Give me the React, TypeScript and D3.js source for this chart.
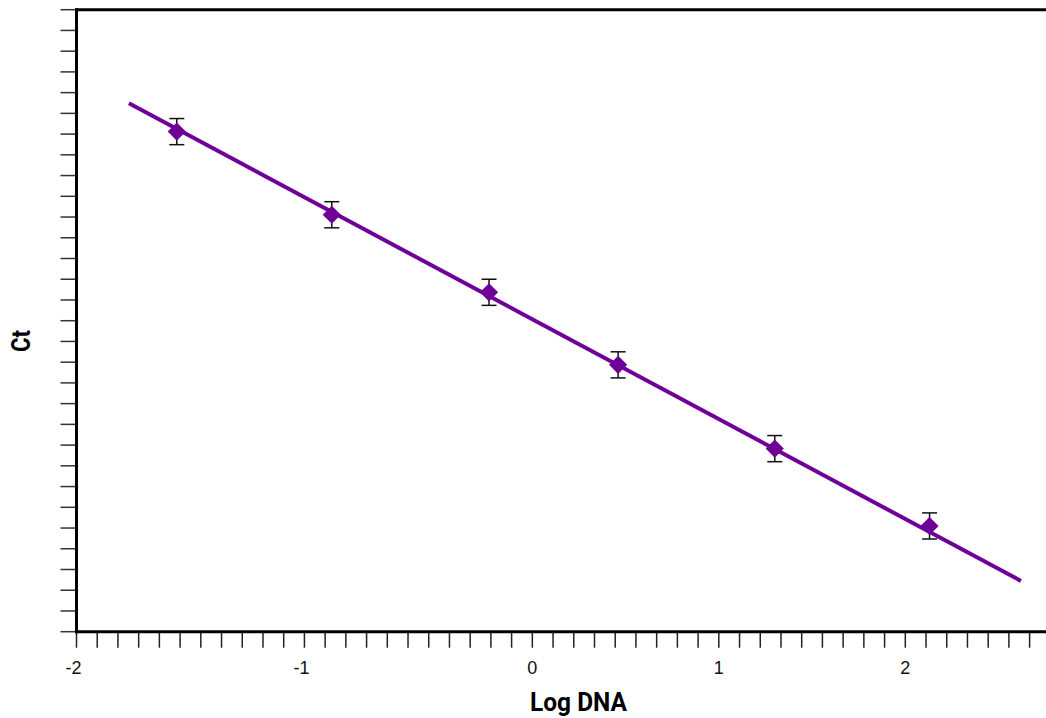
import { useEffect, useRef } from "react";
import * as d3 from "d3";

// Log DNA (x) and Ct (y) of the standards, with error bar half-widths
const logDna = [-1.56, -0.88, -0.19, 0.46, 1.3, 2.13];
const ctMean = [34.12, 30.11, 26.37, 22.87, 18.83, 15.1];
const ctErr = [0.63, 0.63, 0.63, 0.63, 0.63, 0.63];

// fitted line end points
const fitX = [-1.77, 2.62];
const fitY = [35.49, 12.45];

// x labels and the minor tick each one sits on
const xTickLabels = ["-2", "-1", "0", "1", "2"];
const xTickValues = [-2, -1, 0, 1, 2];
const xTickIndex = [0, 11, 22, 31, 40];
const xMinorCount = 46;

const yDomain = [10, 40];
const yMinorCount = 30;

const App = () => {
  const svgRef = useRef<SVGSVGElement | null>(null);

  useEffect(() => {
    if (!svgRef.current) return;
    const W = 1046;
    const H = 718;
    const margin = { top: 9.7, left: 76.5, bottom: 86.3 };
    const height = H - margin.top - margin.bottom;
    const step = 20.72;

    const svg = d3.select(svgRef.current);
    svg.selectAll("*").remove();
    svg.attr("width", W).attr("height", H);

    const g = svg.append("g").attr("transform", `translate(${margin.left},${margin.top})`);

    // minor tick index -> px
    const minor = d3.scaleLinear().domain([0, xMinorCount]).range([0, xMinorCount * step]);
    // Log DNA -> px (labels sit unevenly on the ticks)
    const x = d3.scaleLinear().domain(xTickValues).range(xTickIndex.map((i) => minor(i)));
    const y = d3.scaleLinear().domain(yDomain).range([height, 0]);

    // y ticks
    const yTicks = d3.range(yMinorCount + 1).map((i) => yDomain[0] + ((yDomain[1] - yDomain[0]) * i) / yMinorCount);
    g.selectAll(".ytick")
      .data(yTicks)
      .enter()
      .append("line")
      .attr("x1", -16)
      .attr("x2", 0)
      .attr("y1", (d) => y(d))
      .attr("y2", (d) => y(d))
      .attr("stroke", "#333")
      .attr("stroke-width", 1.5);

    // x ticks
    g.selectAll(".xtick")
      .data(d3.range(xMinorCount + 1))
      .enter()
      .append("line")
      .attr("x1", (d) => minor(d))
      .attr("x2", (d) => minor(d))
      .attr("y1", height)
      .attr("y2", height + 16)
      .attr("stroke", "#222")
      .attr("stroke-width", 1.5);

    // x labels
    g.selectAll(".xlabel")
      .data(xTickValues)
      .enter()
      .append("text")
      .attr("x", (d) => x(d) - (d < 0 ? 3 : 0))
      .attr("y", height + 42)
      .attr("text-anchor", "middle")
      .style("font-family", "'Liberation Sans', Arial, sans-serif")
      .style("font-size", "18px")
      .attr("fill", "#111")
      .text((d, i) => xTickLabels[i]);

    // axes frame
    g.append("line")
      .attr("x1", 0)
      .attr("x2", 0)
      .attr("y1", -1.5)
      .attr("y2", height + 1.5)
      .attr("stroke", "#000")
      .attr("stroke-width", 3);
    g.append("line")
      .attr("x1", -1.5)
      .attr("x2", W)
      .attr("y1", height)
      .attr("y2", height)
      .attr("stroke", "#000")
      .attr("stroke-width", 3);
    g.append("line")
      .attr("x1", -1.5)
      .attr("x2", W)
      .attr("y1", 0)
      .attr("y2", 0)
      .attr("stroke", "#000")
      .attr("stroke-width", 3);

    // fit line
    const fit = fitX.map((v, i) => ({ x: v, y: fitY[i] }));
    const line = d3
      .line<{ x: number; y: number }>()
      .x((d) => x(d.x))
      .y((d) => y(d.y));
    g.append("path")
      .datum(fit)
      .attr("fill", "none")
      .attr("stroke", "#6f0097")
      .attr("stroke-width", 4)
      .attr("d", line);

    const pts = logDna.map((v, i) => ({ x: v, y: ctMean[i], e: ctErr[i] }));

    // error bars
    const eb = g.selectAll(".eb").data(pts).enter().append("g").attr("stroke", "#111").attr("stroke-width", 1.5);
    eb.append("line")
      .attr("x1", (d) => x(d.x))
      .attr("x2", (d) => x(d.x))
      .attr("y1", (d) => y(d.y + d.e))
      .attr("y2", (d) => y(d.y - d.e));
    eb.append("line")
      .attr("x1", (d) => x(d.x) - 7.5)
      .attr("x2", (d) => x(d.x) + 7.5)
      .attr("y1", (d) => y(d.y + d.e))
      .attr("y2", (d) => y(d.y + d.e));
    eb.append("line")
      .attr("x1", (d) => x(d.x) - 7.5)
      .attr("x2", (d) => x(d.x) + 7.5)
      .attr("y1", (d) => y(d.y - d.e))
      .attr("y2", (d) => y(d.y - d.e));

    // diamonds
    const diamond = d3.symbol().type(d3.symbolSquare).size(165);
    g.selectAll(".pt")
      .data(pts)
      .enter()
      .append("path")
      .attr("d", diamond)
      .attr("transform", (d) => `translate(${x(d.x)},${y(d.y)}) rotate(45)`)
      .attr("fill", "#6f0097");

    // axis titles
    svg
      .append("text")
      .attr("x", 578.5)
      .attr("y", 711)
      .attr("text-anchor", "middle")
      .attr("textLength", 97)
      .attr("lengthAdjust", "spacingAndGlyphs")
      .style("font-family", "Roboto, Arial, sans-serif")
      .style("font-weight", "bold")
      .style("font-size", "26px")
      .attr("fill", "#000")
      .text("Log DNA");

    svg
      .append("text")
      .attr("transform", "translate(30,341) rotate(-90)")
      .attr("text-anchor", "middle")
      .attr("textLength", 22)
      .attr("lengthAdjust", "spacingAndGlyphs")
      .style("font-family", "Roboto, Arial, sans-serif")
      .style("font-weight", "bold")
      .style("font-size", "26px")
      .attr("fill", "#000")
      .text("Ct");
  }, []);

  return (
    <div style={{ position: "absolute", left: 0, top: 0, width: 1046, height: 718, background: "#fff" }}>
      <svg ref={svgRef}></svg>
    </div>
  );
};

export default App;
